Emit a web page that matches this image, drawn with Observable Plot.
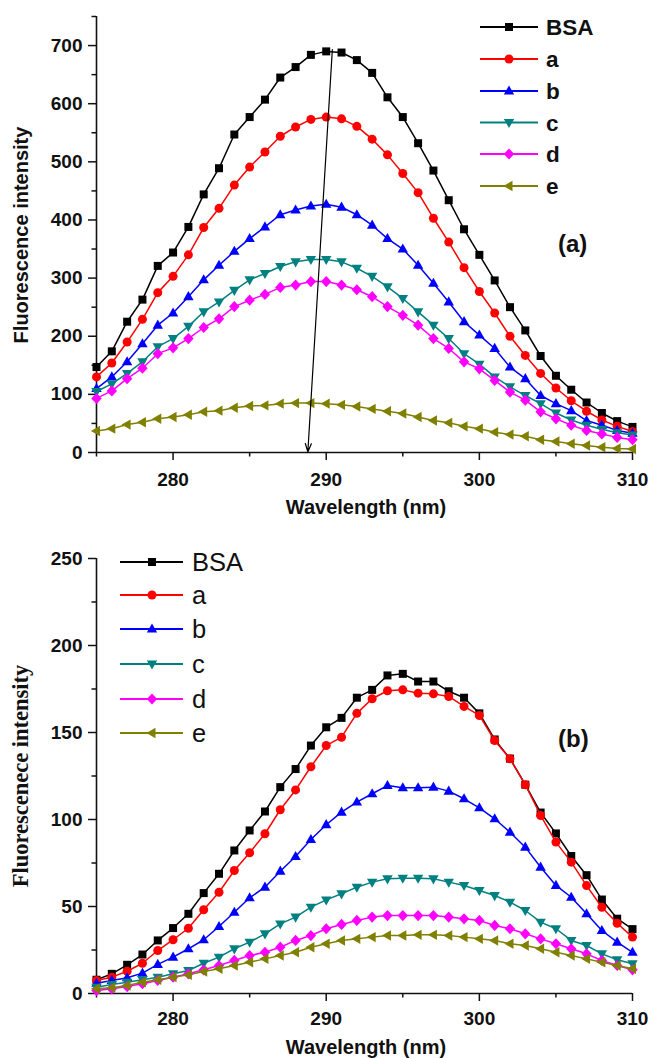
<!DOCTYPE html>
<html>
<head>
<meta charset="utf-8">
<script src="https://cdn.jsdelivr.net/npm/d3@7"></script>
<script src="https://cdn.jsdelivr.net/npm/@observablehq/plot@0.6"></script>
<style>
  html, body { margin: 0; padding: 0; background: #fff; }
  #chart svg { display: block; }
</style>
</head>
<body>
<div id="chart"></div>
<script>
// ---------- DATA ----------
const wavelength = [275,276,277,278,279,280,281,282,283,284,285,286,287,288,289,290,291,292,293,294,295,296,297,298,299,300,301,302,303,304,305,306,307,308,309,310];
const seriesNames = ["BSA", "a", "b", "c", "d", "e"];
const seriesColors = ["#000000", "#ff0000", "#0000ff", "#008080", "#ff00ff", "#808000"];

// Panel (a)
const bsaA = [147,174,225,263,321,344,388,444,489,547,577,607,645,663,684,690,688,675,653,611,577,532,485,434,384,340,296,250,210,166,132,108,86,68,54,44];
const aA   = [130,154,190,229,275,303,340,387,420,460,491,517,544,560,573,577,574,561,539,512,480,447,403,362,318,277,240,200,167,136,111,89,71,56,45,36];
const bA   = [110,130,156,187,219,240,268,297,322,346,368,388,409,417,424,427,422,409,391,368,350,322,291,259,225,202,179,147,127,98,84,72,55,47,38,33];
const cA   = [105,118,136,156,182,196,217,242,259,279,297,308,320,328,332,332,328,317,303,285,265,242,219,196,170,152,130,113,98,84,68,56,47,40,34,30];
const dA   = [93,106,127,145,170,180,196,215,230,251,262,272,284,288,294,294,288,280,268,251,236,219,196,179,156,144,124,104,90,70,58,47,38,32,26,22];
const eA   = [37,41,48,52,58,61,65,70,72,77,80,81,84,85,85,84,82,79,75,71,67,61,55,51,45,41,35,31,28,22,19,15,12,9,7,6];

// Panel (b)
const bsaB = [7.9,11.3,16.5,22.4,30.5,37.6,45.8,57.7,68.8,82.2,93.7,104.6,118.6,129,142.5,153,158.4,170,174.5,182.8,183.7,179.3,179.3,173.7,170,161,146,135,120,104,92,79,68,54,43,37];
const aB   = [7.5,9.4,12.8,17.4,24.7,30.9,37.5,48.1,58.2,70.7,80.9,91.8,105.6,117,130.3,142.5,147.3,161,169.4,174,174.5,172.6,172.2,170.7,165,159.8,145.4,134.9,120,102.3,87,75.5,62,49.6,40.4,32.4];
const bB   = [5.9,7.5,9,11.7,16.7,20.9,25.7,30.9,38.5,46.7,55,61.1,70.3,78.7,88.5,97,104.2,110,114.8,119.5,118.2,118.2,118.6,116.3,111.9,106.7,100.4,92.7,84.1,72.6,62.1,55.3,45.8,36.2,29.5,23.7];
const cB   = [3.6,5.2,6.5,7.9,9.4,11.3,13.2,17.4,20.9,25.7,29.5,34.3,40,43.9,49.6,53.8,57.3,61.1,64,65.9,66.3,66.3,65.9,64,62.1,59.2,56.3,52.5,47.7,41,37.2,30.5,27.6,22.8,19.4,17.1];
const dB   = [1.7,2.7,4,5.6,7.5,9.4,11.3,13.6,16.1,19,21.8,23.7,26.6,30.5,33.3,37.2,39.7,42,43.9,44.8,44.8,44.8,44.8,43.9,42.9,42,39.1,37.2,34.3,31.4,28.6,25.7,22.8,19,16.1,13.6];
const eB   = [2.7,3.3,4.6,6.5,7.9,9.4,10.7,12.6,14.2,16.1,18,19.9,21.8,23.7,26.6,28.6,30.5,31.4,32.4,33.3,33.3,33.7,33.7,33.3,32.4,31.4,30.5,28.6,27.6,25.7,23.7,21.8,19.9,18,16.1,14.2];

// Ticks
const xMajorTicks = [280, 290, 300, 310];
const xMinorTicks = [275, 285, 295, 305];
const yMajorTicksA = [0,100,200,300,400,500,600,700];
const yMinorTicksA = [50,150,250,350,450,550,650,750];
const yMajorTicksB = [0,50,100,150,200,250];
const yMinorTicksB = [25,75,125,175,225];

// Arrow annotation in panel (a) (data units)
const arrowA = [{x1: 290.4, y1: 693, x2: 288.8, y2: 1}];

// ---------- SYMBOLS ----------
function polySym(pts) {
  return { draw(ctx, size) {
    const k = Math.sqrt(size / Math.PI) / 4.5;
    ctx.moveTo(pts[0][0]*k, pts[0][1]*k);
    for (let i = 1; i < pts.length; i++) ctx.lineTo(pts[i][0]*k, pts[i][1]*k);
    ctx.closePath();
  }};
}
const symSquare = polySym([[-4,-4],[4,-4],[4,4],[-4,4]]);
const symCircle = { draw(ctx, size) { const r = 4.5 * Math.sqrt(size / Math.PI) / 4.5; ctx.moveTo(r, 0); ctx.arc(0, 0, r, 0, 2*Math.PI); } };
const symUp    = polySym([[0,-5.6],[5.2,3.5],[-5.2,3.5]]);
const symDown  = polySym([[0,5.6],[5.2,-3.5],[-5.2,-3.5]]);
const symDiam  = polySym([[0,-5.6],[5.2,0],[0,5.6],[-5.2,0]]);
const symLeft  = polySym([[-5.6,0],[3.5,-5.2],[3.5,5.2]]);
const symbols = [symSquare, symCircle, symUp, symDown, symDiam, symLeft];

const SANS = "'Liberation Sans', Arial, Helvetica, sans-serif";
const SERIF = "'Liberation Serif', 'Times New Roman', serif";

function makePanel(cfg) {
  const seriesValues = cfg.values;
  const marks = [];
  marks.push(Plot.axisX({ticks: xMajorTicks, tickSize: 8, tickPadding: cfg.xTickPadding, strokeWidth: 1.5, label: null, tickFormat: d => String(d)}));
  marks.push(Plot.axisX({ticks: xMinorTicks, tickSize: 4.5, strokeWidth: 1.5, label: null, tickFormat: () => ""}));
  marks.push(Plot.axisY({ticks: cfg.yMajor, tickSize: 8, tickPadding: 6, strokeWidth: 1.5, label: null, tickFormat: d => String(d)}));
  marks.push(Plot.axisY({ticks: cfg.yMinor, tickSize: 4.5, strokeWidth: 1.5, label: null, tickFormat: () => ""}));
  marks.push(Plot.ruleX([275], {stroke: "#111", strokeWidth: 1.6}));
  marks.push(Plot.ruleY([0], {stroke: "#111", strokeWidth: 1.6}));
  seriesValues.forEach((vals, i) => {
    const d = vals.map((v, j) => ({x: wavelength[j], y: v}));
    marks.push(Plot.line(d, {x: "x", y: "y", stroke: seriesColors[i], strokeWidth: 1.5}));
    marks.push(Plot.dot(d, {x: "x", y: "y", fill: seriesColors[i], stroke: "none", symbol: symbols[i], r: 4.5}));
  });
  if (cfg.arrow) {
    marks.push(Plot.arrow(cfg.arrow, {x1: "x1", y1: "y1", x2: "x2", y2: "y2", stroke: "#000", strokeWidth: 1.2, headLength: 11, headAngle: 40}));
  }
  const svg = Plot.plot({
    width: 649,
    height: cfg.height,
    marginTop: cfg.marginTop,
    marginBottom: cfg.marginBottom,
    marginLeft: 96,
    marginRight: 17,
    x: {domain: [275, 310]},
    y: {domain: cfg.yDomain},
    style: {fontFamily: SANS, fontSize: "19px", fontWeight: "bold", color: "#111", background: "#fff"},
    marks
  });
  const s = d3.select(svg);
  // axis titles
  s.append("text").attr("x", 366).attr("y", cfg.xTitleY).attr("text-anchor", "middle")
    .style("font-family", SANS).style("font-size", "20px").style("font-weight", "bold").attr("fill", "#111")
    .text("Wavelength (nm)");
  s.append("text").attr("transform", `translate(${cfg.yTitleX},${cfg.yTitleY}) rotate(-90)`).attr("text-anchor", "middle")
    .style("font-family", cfg.yTitleFont).style("font-size", cfg.yTitleSize).style("font-weight", "bold").attr("fill", "#111")
    .text(cfg.yTitle);
  // legend
  const lg = cfg.legend;
  seriesNames.forEach((name, i) => {
    const yy = lg.rows[i];
    s.append("line").attr("x1", lg.x1).attr("x2", lg.x2).attr("y1", yy).attr("y2", yy)
      .attr("stroke", seriesColors[i]).attr("stroke-width", 1.8);
    s.append("path").attr("transform", `translate(${lg.xm},${yy})`)
      .attr("d", d3.symbol(symbols[i], 4.5*4.5*Math.PI)()).attr("fill", seriesColors[i]);
    s.append("text").attr("x", lg.xt).attr("y", yy).attr("dy", "0.36em").attr("text-anchor", "start")
      .style("font-family", SANS).style("font-size", lg.size).style("font-weight", lg.weight).attr("fill", "#111")
      .text(name);
  });
  // panel label
  s.append("text").attr("x", 558).attr("y", cfg.tagY).attr("text-anchor", "start")
    .style("font-family", SANS).style("font-size", "24px").style("font-weight", "bold").attr("fill", "#111")
    .text(cfg.tag);
  return svg;
}

const root = document.getElementById("chart");
root.appendChild(makePanel({
  values: [bsaA, aA, bA, cA, dA, eA],
  yDomain: [0, 750], yMajor: yMajorTicksA, yMinor: yMinorTicksA,
  height: 530, marginTop: 16, marginBottom: 78, xTickPadding: 12,
  xTitleY: 514, yTitleX: 28, yTitleY: 235, yTitle: "Fluorescence intensity", yTitleFont: SANS, yTitleSize: "20px",
  legend: {rows: [27, 59, 91, 122.5, 154, 186], x1: 480, x2: 538, xm: 509, xt: 546, size: "22.5px", weight: "bold"},
  tag: "(a)", tagY: 252,
  arrow: arrowA
}));
root.appendChild(makePanel({
  values: [bsaB, aB, bB, cB, dB, eB],
  yDomain: [0, 250], yMajor: yMajorTicksB, yMinor: yMinorTicksB,
  height: 528, marginTop: 28, marginBottom: 65, xTickPadding: 10,
  xTitleY: 524, yTitleX: 28, yTitleY: 246, yTitle: "Fluorescenece intensity", yTitleFont: SERIF, yTitleSize: "22.5px",
  legend: {rows: [32, 65, 99, 134, 169, 203], x1: 120, x2: 183, xm: 152, xt: 192, size: "25.5px", weight: "normal"},
  tag: "(b)", tagY: 217,
  arrow: null
}));
</script>
</body>
</html>
